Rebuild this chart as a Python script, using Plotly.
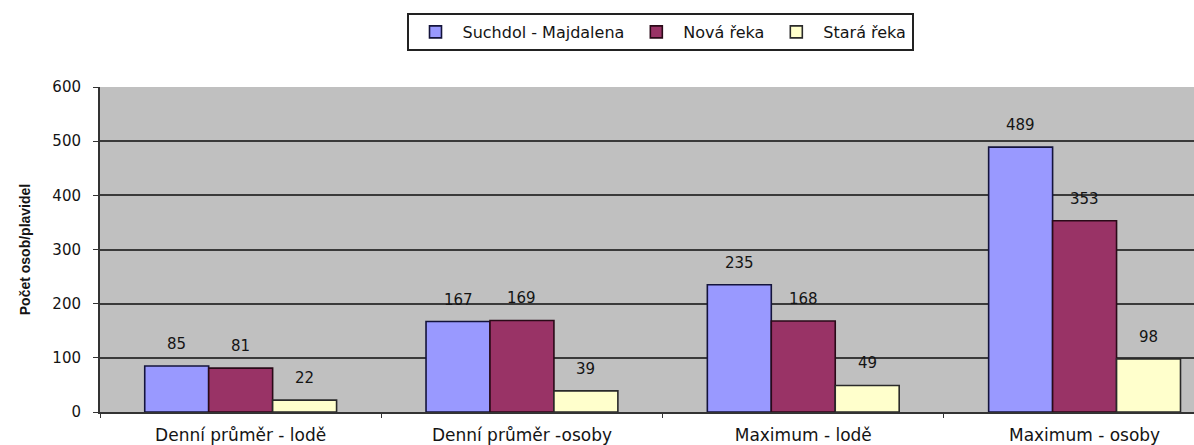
import plotly.graph_objects as go

categories = ["Denní průměr - lodě", "Denní průměr -osoby", "Maximum - lodě", "Maximum - osoby"]
series_names = ["Suchdol - Majdalena", "Nová řeka", "Stará řeka"]
suchdol = [85, 167, 235, 489]
nova = [81, 169, 168, 353]
stara = [22, 39, 49, 98]
y_ticks = [0, 100, 200, 300, 400, 500, 600]

values = [suchdol, nova, stara]
fills = ["#9999FF", "#993366", "#FFFFCC"]
outlines = ["#14143c", "#2a0a18", "#2a2a2a"]

W, H = 1194, 445
ML, MR, MT, MB = 100, 0, 87, 33
x_range = [-0.5, 3.389]
bargap = 0.318
plot_w = W - ML - MR
px_per_unit = plot_w / (x_range[1] - x_range[0])
bar_px = px_per_unit * (1 - bargap) / 3

FONT = "DejaVu Sans, Liberation Sans, Arial, sans-serif"
TXT = "#141414"

fig = go.Figure()
for name, vals, fc, lc in zip(series_names, values, fills, outlines):
    fig.add_trace(go.Bar(
        x=categories, y=vals, name=name,
        marker=dict(color=fc, line=dict(color=lc, width=1.6)),
    ))

annotations = []
for j, vals in enumerate(values):
    for cat, v in zip(categories, vals):
        annotations.append(dict(
            x=cat, y=v, xref="x", yref="y", text=str(v), showarrow=False,
            xshift=(j - 1) * bar_px, yshift=22,
            font=dict(family=FONT, size=15, color=TXT),
        ))

fig.update_layout(
    width=W, height=H,
    margin=dict(l=ML, r=MR, t=MT, b=MB, pad=0, autoexpand=False),
    paper_bgcolor="white", plot_bgcolor="#C0C0C0",
    barmode="group", bargap=bargap, bargroupgap=0,
    font=dict(family=FONT, size=14, color=TXT),
    showlegend=True,
    legend=dict(
        orientation="h", xref="container", yref="container",
        x=660 / W, xanchor="center", y=1 - 13 / H, yanchor="top",
        bgcolor="white", bordercolor="#222222", borderwidth=2,
        font=dict(family=FONT, size=16, color=TXT),
        itemwidth=44, traceorder="normal",
    ),
    annotations=annotations,
)
fig.update_xaxes(
    type="category", range=x_range, showgrid=False, automargin=False,
    ticks="outside", ticklen=4, tickcolor="#333333", tickson="boundaries",
    tickfont=dict(family=FONT, size=17, color=TXT),
    ticklabelstandoff=7,
    showline=True, linecolor="#333333", linewidth=1.5,
)
fig.update_yaxes(
    range=[0, 600], tickvals=y_ticks, showgrid=True, gridcolor="#3a3a3a", gridwidth=2,
    automargin=False,
    ticks="outside", ticklen=5, tickcolor="#333333",
    tickfont=dict(family=FONT, size=15, color=TXT),
    ticklabelstandoff=9,
    showline=True, linecolor="#333333", linewidth=2,
    zeroline=False,
    title=dict(text="<b>Počet osob/plavidel</b>", standoff=18,
               font=dict(family="Liberation Sans, Arial, sans-serif", size=14, color=TXT)),
)

fig.write_html(
    "out.html",
    config={"displayModeBar": False},
    post_script="document.body.style.margin='0';document.body.style.overflow='hidden';",
)
